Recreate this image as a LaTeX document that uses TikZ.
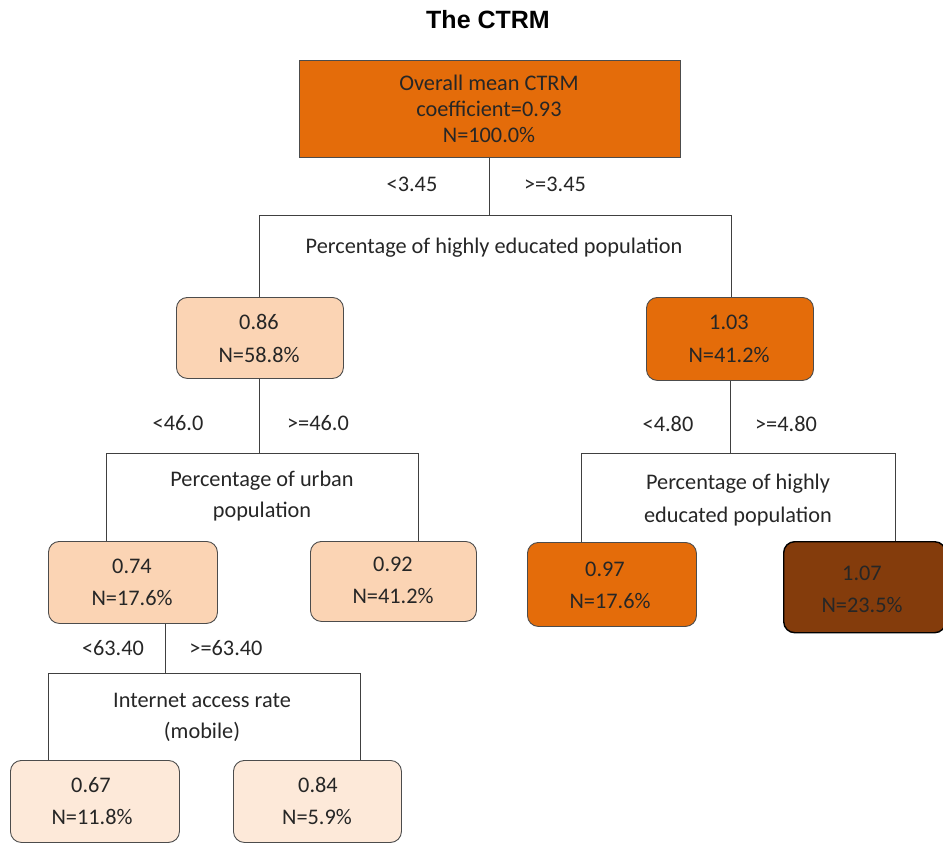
\documentclass[tikz,border=0pt]{standalone}
\usepackage{fontspec}
\setmainfont{Carlito}
\newfontfamily\titlefont{Liberation Sans}
\begin{document}
\begin{tikzpicture}[x=1pt,y=-1pt,
  every node/.style={font=\fontsize{22.3}{26}\selectfont, text=black!85, inner sep=0pt},
  box/.style={draw=black!70, line width=0.9pt, rounded corners=11pt, align=center, anchor=north west},
  dark/.style={box, fill=orangeD},
  peach/.style={box, fill=peachL},
  pale/.style={box, fill=peachP},
  brown/.style={box, fill=brownD, draw=black, line width=1.4pt},
  conn/.style={draw=black!75, line width=0.8pt}
]
\definecolor{orangeD}{HTML}{E46C0A}
\definecolor{peachL}{HTML}{FBD4B4}
\definecolor{peachP}{HTML}{FDE9D9}
\definecolor{brownD}{HTML}{843C0C}
\useasboundingbox (0,0) rectangle (943,843);

\node[font=\titlefont\bfseries\fontsize{25}{30}\selectfont, text=black] (title) at (488,20) {The CTRM};

% root
\node[box, fill=orangeD, rounded corners=0pt, minimum width=381pt, minimum height=97pt] (root) at (299,60) {};
\node (rootT) at (489,109) [align=center, font=\fontsize{22.3}{26}\selectfont] {Overall mean CTRM\\coefficient=0.93\\N=100.0\%};

% level 1
\coordinate (j1) at (489,215);
\coordinate (j1l) at (259,215);
\coordinate (j1r) at (731,215);
\node[peach, minimum width=167pt, minimum height=81pt] (b086) at (176,297) {};
\node[dark, minimum width=167pt, minimum height=83pt] (b103) at (646,297) {};
\draw[conn] (root.south -| j1) -- (j1);
\draw[conn] (j1l) -- (j1r);
\draw[conn] (j1l) -- (j1l |- b086.north);
\draw[conn] (j1r) -- (j1r |- b103.north);
\node (l1a) at (412,184) {<3.45};
\node (l1b) at (555,184) {>=3.45};
\node (s1) at (494,248) {Percentage of highly educated population};
\node (t086a) at (259,322) {0.86};
\node (t086b) at (259,355) {N=58.8\%};
\node (t103a) at (729,322) {1.03};
\node (t103b) at (729,355) {N=41.2\%};

% level 2 left
\coordinate (j2) at (259,453);
\coordinate (j2l) at (106,453);
\coordinate (j2r) at (418,453);
\node[peach, minimum width=169pt, minimum height=82pt] (b074) at (48,541) {};
\node[peach, minimum width=166pt, minimum height=80pt] (b092) at (310,541) {};
\draw[conn] (b086.south -| j2) -- (j2);
\draw[conn] (j2l) -- (j2r);
\draw[conn] (j2l) -- (j2l |- b074.north);
\draw[conn] (j2r) -- (j2r |- b092.north);
\node (l2a) at (178,423) {<46.0};
\node (l2b) at (318,423) {>=46.0};
\node (s2) at (262,496) [align=center, font=\fontsize{22.3}{31}\selectfont] {Percentage of urban\\population};
\node (t074a) at (132,566) {0.74};
\node (t074b) at (132,598) {N=17.6\%};
\node (t092a) at (393,564) {0.92};
\node (t092b) at (393,596) {N=41.2\%};

% level 2 right
\coordinate (j3) at (730,453);
\coordinate (j3l) at (581,453);
\coordinate (j3r) at (895,453);
\node[dark, minimum width=169pt, minimum height=84pt] (b097) at (527,542) {};
\node[brown, minimum width=162pt, minimum height=91pt] (b107) at (783,541) {};
\draw[conn] (b103.south -| j3) -- (j3);
\draw[conn] (j3l) -- (j3r);
\draw[conn] (j3l) -- (j3l |- b097.north);
\draw[conn] (j3r) -- (j3r |- b107.north);
\node (l3a) at (668,424) {<4.80};
\node (l3b) at (786,424) {>=4.80};
\node (s3) at (738,500) [align=center, font=\fontsize{22.3}{33}\selectfont] {Percentage of highly\\educated population};
\node (t097a) at (605,569) {0.97};
\node (t097b) at (610,601) {N=17.6\%};
\node (t107a) at (862,573) {1.07};
\node (t107b) at (862,605) {N=23.5\%};

% level 3
\coordinate (j4) at (165,673);
\coordinate (j4l) at (48,673);
\coordinate (j4r) at (360,673);
\node[pale, minimum width=169pt, minimum height=82pt] (b067) at (10,760) {};
\node[pale, minimum width=168pt, minimum height=82pt] (b084) at (233,760) {};
\draw[conn] (b074.south -| j4) -- (j4);
\draw[conn] (j4l) -- (j4r);
\draw[conn] (j4l) -- (j4l |- b067.north);
\draw[conn] (j4r) -- (j4r |- b084.north);
\node (l4a) at (113,648) {<63.40};
\node (l4b) at (226,648) {>=63.40};
\node (s4) at (202,717) [align=center, font=\fontsize{22.3}{31}\selectfont] {Internet access rate\\(mobile)};
\node (t067a) at (91,785) {0.67};
\node (t067b) at (92,817) {N=11.8\%};
\node (t084a) at (318,785) {0.84};
\node (t084b) at (317,817) {N=5.9\%};
\end{tikzpicture}
\end{document}
